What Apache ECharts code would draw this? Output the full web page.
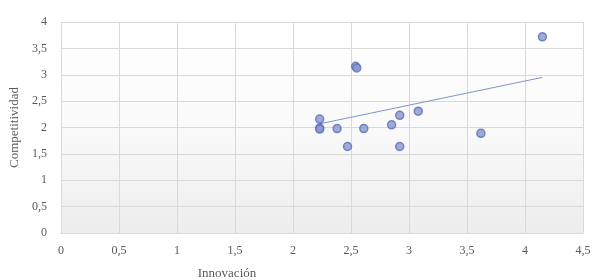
<!DOCTYPE html>
<html>
<head>
<meta charset="utf-8">
<script src="https://cdn.jsdelivr.net/npm/echarts@6/dist/echarts.min.js"></script>
<style>
  html, body { margin: 0; padding: 0; background: #fff; }
  #main { width: 594px; height: 280px; }
</style>
</head>
<body>
<div id="main"></div>
<script>
// valores
const innovacion = [4.15, 2.54, 2.55, 2.23, 2.23, 2.23, 2.38, 2.47, 2.61, 2.85, 2.92, 2.92, 3.08, 3.62]
const competitividad = [3.72, 3.16, 3.13, 2.16, 1.99, 1.97, 1.98, 1.64, 1.98, 2.05, 2.23, 1.64, 2.31, 1.89]
// línea de tendencia (extremos)
const trendX = [2.23, 4.15]
const trendY = [2.07, 2.95]
const xTicks = [0, 0.5, 1, 1.5, 2, 2.5, 3, 3.5, 4, 4.5]
const yTicks = [0, 0.5, 1, 1.5, 2, 2.5, 3, 3.5, 4]

const points = innovacion.map((x, i) => [x, competitividad[i]])
const trend = trendX.map((x, i) => [x, trendY[i]])

const fmt = v => String(v).replace('.', ',')
const font = 'Liberation Serif'

const chart = echarts.init(document.getElementById('main'))
chart.setOption({
  animation: false,
  backgroundColor: '#fff',
  textStyle: { fontFamily: font },
  grid: {
    left: 61, right: 11, top: 22, bottom: 47,
    outerBoundsMode: 'none',
    containLabel: false,
    show: true,
    borderWidth: 0,
    backgroundColor: {
      type: 'linear', x: 0, y: 0, x2: 0, y2: 1,
      colorStops: [
        { offset: 0, color: '#ffffff' },
        { offset: 0.5, color: '#fafafa' },
        { offset: 1, color: '#ededed' }
      ]
    }
  },
  xAxis: {
    type: 'value',
    min: xTicks[0], max: xTicks[xTicks.length - 1], interval: 0.5,
    name: 'Innovación',
    nameLocation: 'middle',
    nameGap: 34,
    nameTextStyle: { color: '#595959', fontSize: 13, fontFamily: font, padding: [0, 190, 0, 0] },
    axisLine: { show: true, lineStyle: { color: '#d9d9d9' } },
    axisTick: { show: false },
    axisLabel: { color: '#595959', fontSize: 12, fontFamily: font, margin: 12, formatter: fmt },
    splitLine: { show: true, lineStyle: { color: '#d9d9d9', width: 1 } }
  },
  yAxis: {
    type: 'value',
    min: yTicks[0], max: yTicks[yTicks.length - 1], interval: 0.5,
    name: 'Competitividad',
    nameLocation: 'middle',
    nameGap: 40,
    nameRotate: 90,
    nameTextStyle: { color: '#595959', fontSize: 13, fontFamily: font },
    axisLine: { show: false },
    axisTick: { show: false },
    axisLabel: { color: '#595959', fontSize: 12, fontFamily: font, margin: 14, formatter: fmt },
    splitLine: { show: true, lineStyle: { color: '#d9d9d9', width: 1 } }
  },
  series: [
    {
      type: 'line',
      data: trend,
      symbol: 'none',
      lineStyle: { color: '#7f96cc', width: 1 },
      z: 1
    },
    {
      type: 'scatter',
      data: points,
      symbolSize: 8,
      itemStyle: { color: '#8797d0', borderColor: '#5b6eb5', borderWidth: 1.5 },
      z: 2
    }
  ]
})
</script>
</body>
</html>
